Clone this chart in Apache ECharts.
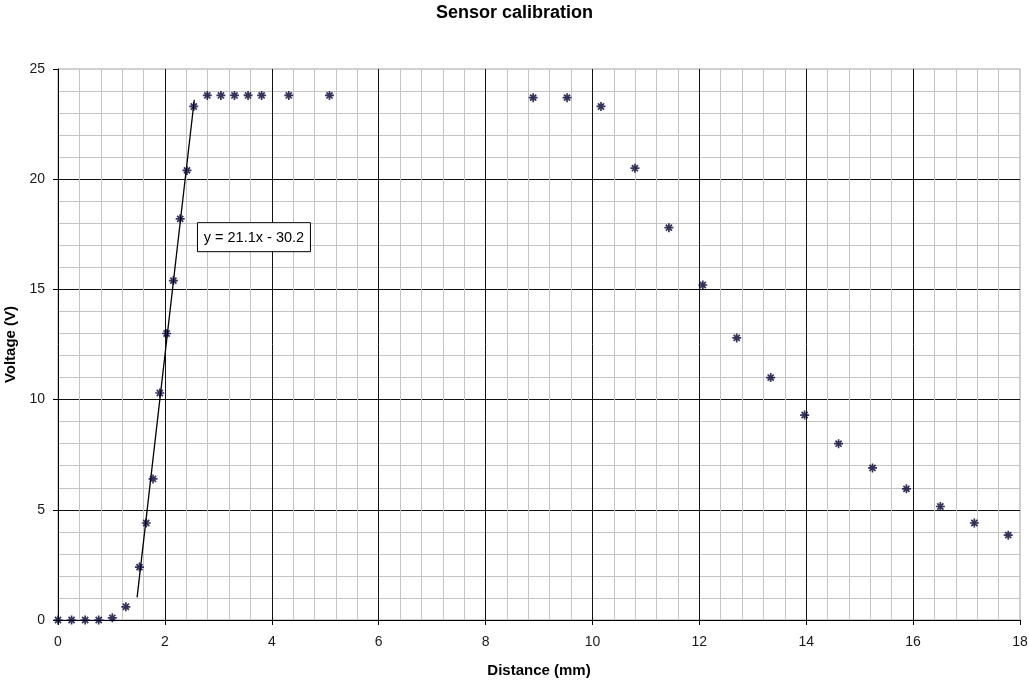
<!DOCTYPE html>
<html>
<head>
<meta charset="utf-8">
<title>Sensor calibration</title>
<script src="https://cdn.jsdelivr.net/npm/echarts@6/dist/echarts.min.js"></script>
<style>
  html, body { margin: 0; padding: 0; background: #ffffff; }
  #chart { width: 1029px; height: 680px; }
</style>
</head>
<body>
<div id="chart"></div>
<script>
// Measured distance (mm) and sensor output voltage (V)
const distance = [
  0, 0.254, 0.508, 0.762, 1.016, 1.27, 1.524, 1.651, 1.778, 1.905,
  2.032, 2.159, 2.286, 2.413, 2.54, 2.794, 3.048, 3.302, 3.556, 3.81,
  4.318, 5.08, 8.89, 9.525, 10.16, 10.795, 11.43, 12.065, 12.7, 13.335,
  13.97, 14.605, 15.24, 15.875, 16.51, 17.145, 17.78
];
const voltage = [
  0.0, 0.0, 0.0, 0.0, 0.1, 0.6, 2.4, 4.4, 6.4, 10.3,
  13.0, 15.4, 18.2, 20.4, 23.3, 23.8, 23.8, 23.8, 23.8, 23.8,
  23.8, 23.8, 23.7, 23.7, 23.3, 20.5, 17.8, 15.2, 12.8, 11.0,
  9.3, 8.0, 6.9, 5.95, 5.15, 4.4, 3.85
];

// Linear fit over the rising edge
const fitSlope = 21.1;
const fitIntercept = -30.2;
const fitRange = [1.48, 2.55];
const fitLabel = 'y = 21.1x - 30.2';

const xTicks = { min: 0, max: 18, step: 2 };
const yTicks = { min: 0, max: 25, step: 5 };

const points = distance.map((d, i) => [d, voltage[i]]);
const fitLine = fitRange.map(x => [x, fitSlope * x + fitIntercept]);

const FONT = '"Liberation Sans", Arial, sans-serif';
// Asterisk marker: vertical, horizontal and both diagonal strokes
const STAR = 'path://M5,0L5,10M0,5L10,5M1.6,1.6L8.4,8.4M8.4,1.6L1.6,8.4';

const chart = echarts.init(document.getElementById('chart'), null, { renderer: 'canvas' });

function axisCommon(t, name, gap, rotate, labelMargin) {
  return {
    type: 'value',
    min: t.min, max: t.max, interval: t.step,
    name: name,
    nameLocation: 'middle',
    nameGap: gap,
    nameRotate: rotate,
    nameTextStyle: { fontFamily: FONT, fontSize: 15, fontWeight: 'bold', color: '#000' },
    axisLine: { show: true, onZero: false, lineStyle: { color: '#000', width: 1 } },
    axisTick: { show: true, inside: false, length: 5, lineStyle: { color: '#000' } },
    axisLabel: { fontFamily: FONT, fontSize: 14, color: '#1a1a1a', margin: labelMargin },
    splitLine: { show: true, showMinLine: false, showMaxLine: false, lineStyle: { color: '#111', width: 1 } },
    minorTick: { show: false, splitNumber: 5 },
    minorSplitLine: { show: true, lineStyle: { color: '#c4c4c4', width: 1 } }
  };
}

const option = {
  backgroundColor: '#ffffff',
  animation: false,
  title: {
    text: 'Sensor calibration',
    left: 'center',
    top: 4,
    padding: 0,
    textStyle: { fontFamily: FONT, fontSize: 18, fontWeight: 'bold', color: '#000' }
  },
  grid: {
    left: 58, right: 9, top: 69, bottom: 60,
    containLabel: false,
    outerBoundsMode: 'none',
    show: true, borderColor: '#a0a0a0', borderWidth: 1, backgroundColor: '#ffffff'
  },
  xAxis: axisCommon(xTicks, 'Distance (mm)', 43, 0, 15),
  yAxis: axisCommon(yTicks, 'Voltage (V)', 33, 90, 13),
  series: [
    {
      type: 'line',
      data: fitLine,
      showSymbol: false,
      symbol: 'none',
      lineStyle: { color: '#000', width: 1.3 },
      z: 3
    },
    {
      type: 'scatter',
      data: points,
      symbol: STAR,
      symbolSize: 9,
      symbolKeepAspect: true,
      itemStyle: { color: '#000033', borderColor: '#000033', borderWidth: 1.7 },
      z: 4
    }
  ]
};

chart.setOption(option);

// Equation box placed in data coordinates next to the fitted line
const boxPos = chart.convertToPixel({ gridIndex: 0 }, [2.6, 18.05]);
chart.setOption({
  graphic: [{
    type: 'group',
    left: boxPos[0],
    top: boxPos[1],
    children: [
      {
        type: 'rect',
        shape: { x: 0, y: 0, width: 113, height: 29 },
        style: { fill: '#ffffff', stroke: '#000', lineWidth: 1 }
      },
      {
        type: 'text',
        x: 56.5, y: 15,
        style: {
          text: fitLabel, fontFamily: FONT, fontSize: 14.5, fill: '#000',
          align: 'center', verticalAlign: 'middle'
        }
      }
    ]
  }]
});
</script>
</body>
</html>
